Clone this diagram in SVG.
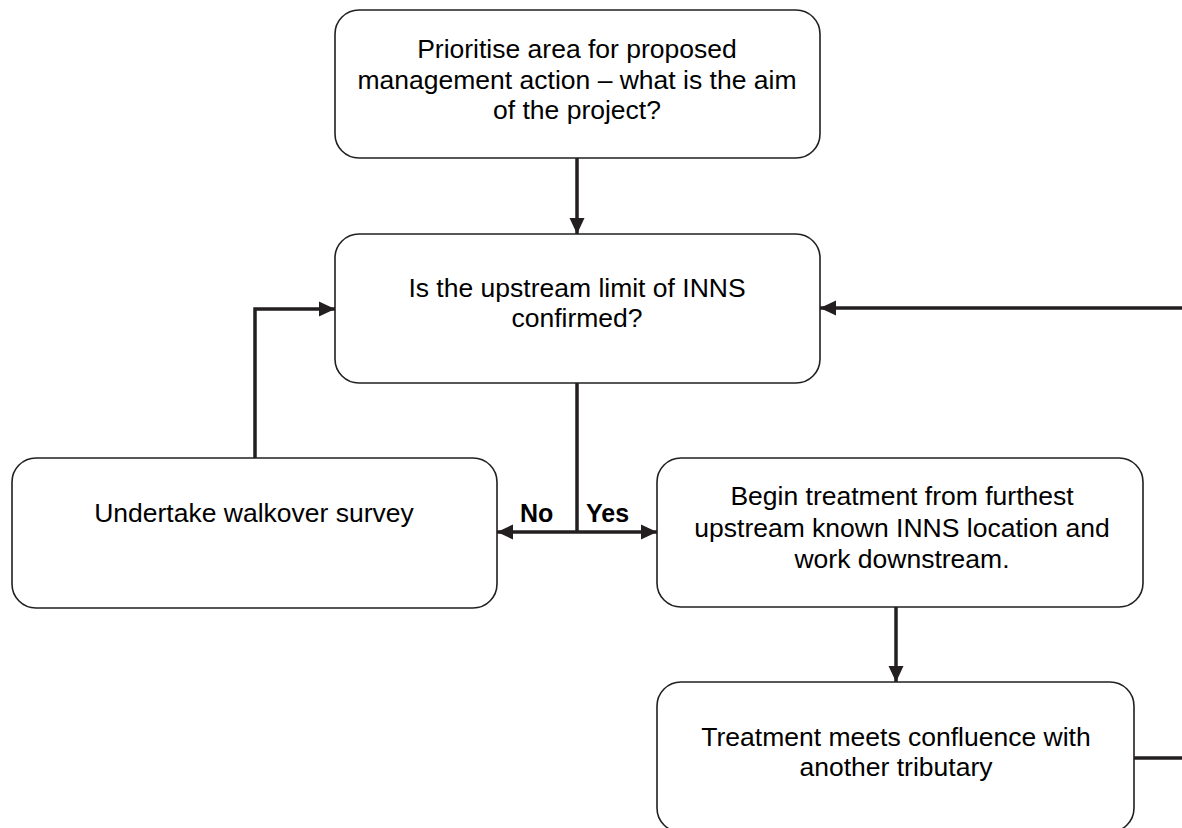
<svg xmlns="http://www.w3.org/2000/svg" width="1182" height="828" viewBox="0 0 1182 828">
<style>
.box{fill:#fff;stroke:#231f20;stroke-width:1.6}
.t{font-family:"Liberation Sans",Arial,sans-serif;font-size:26.5px;fill:#000;text-anchor:middle}
.lbl{font-family:"Liberation Sans",Arial,sans-serif;font-size:25px;font-weight:bold;fill:#000}
.c{fill:none;stroke:#231f20;stroke-width:3.5}
</style>
<defs>
<marker id="ah" markerUnits="userSpaceOnUse" markerWidth="16" markerHeight="16" viewBox="0 0 16 16" refX="16" refY="8" orient="auto">
<path d="M0,0.5 L16,8 L0,15.5 Z" fill="#231f20"/>
</marker>
</defs>
<rect width="1182" height="828" fill="#fff"/>
<g id="connectors">
<line class="c" x1="577" y1="158" x2="577" y2="234" stroke-width="5" marker-end="url(#ah)"/>
<polyline class="c" points="577,383 577,532"/>
<line class="c" x1="577" y1="532" x2="497" y2="532" marker-end="url(#ah)"/>
<line class="c" x1="577" y1="532" x2="657" y2="532" marker-end="url(#ah)"/>
<polyline class="c" points="255,458 255,309 335,309" marker-end="url(#ah)"/>
<line class="c" x1="1182" y1="308" x2="820" y2="308" marker-end="url(#ah)"/>
<line class="c" x1="896" y1="607" x2="896" y2="682" marker-end="url(#ah)"/>
<line class="c" x1="1134" y1="758" x2="1182" y2="758"/>
<text class="lbl" x="520" y="522">No</text>
<text class="lbl" x="586" y="522">Yes</text>
</g>
<g id="n1">
<rect class="box" x="335" y="10" width="485" height="148" rx="24"/>
<text class="t" x="577" y="58">Prioritise area for proposed</text>
<text class="t" x="577" y="88.5">management action – what is the aim</text>
<text class="t" x="577" y="118.5">of the project?</text>
</g>
<g id="n2">
<rect class="box" x="335" y="234" width="485" height="149" rx="24"/>
<text class="t" x="577" y="297">Is the upstream limit of INNS</text>
<text class="t" x="577" y="327">confirmed?</text>
</g>
<g id="n3">
<rect class="box" x="12" y="458" width="485" height="150" rx="24"/>
<text class="t" x="254" y="522">Undertake walkover survey</text>
</g>
<g id="n4">
<rect class="box" x="657" y="458" width="486" height="149" rx="24"/>
<text class="t" x="902" y="505">Begin treatment from furthest</text>
<text class="t" x="902" y="537">upstream known INNS location and</text>
<text class="t" x="902" y="568">work downstream.</text>
</g>
<g id="n5">
<rect class="box" x="657" y="682" width="477" height="150" rx="24"/>
<text class="t" x="896" y="746">Treatment meets confluence with</text>
<text class="t" x="896" y="776">another tributary</text>
</g>
</svg>
